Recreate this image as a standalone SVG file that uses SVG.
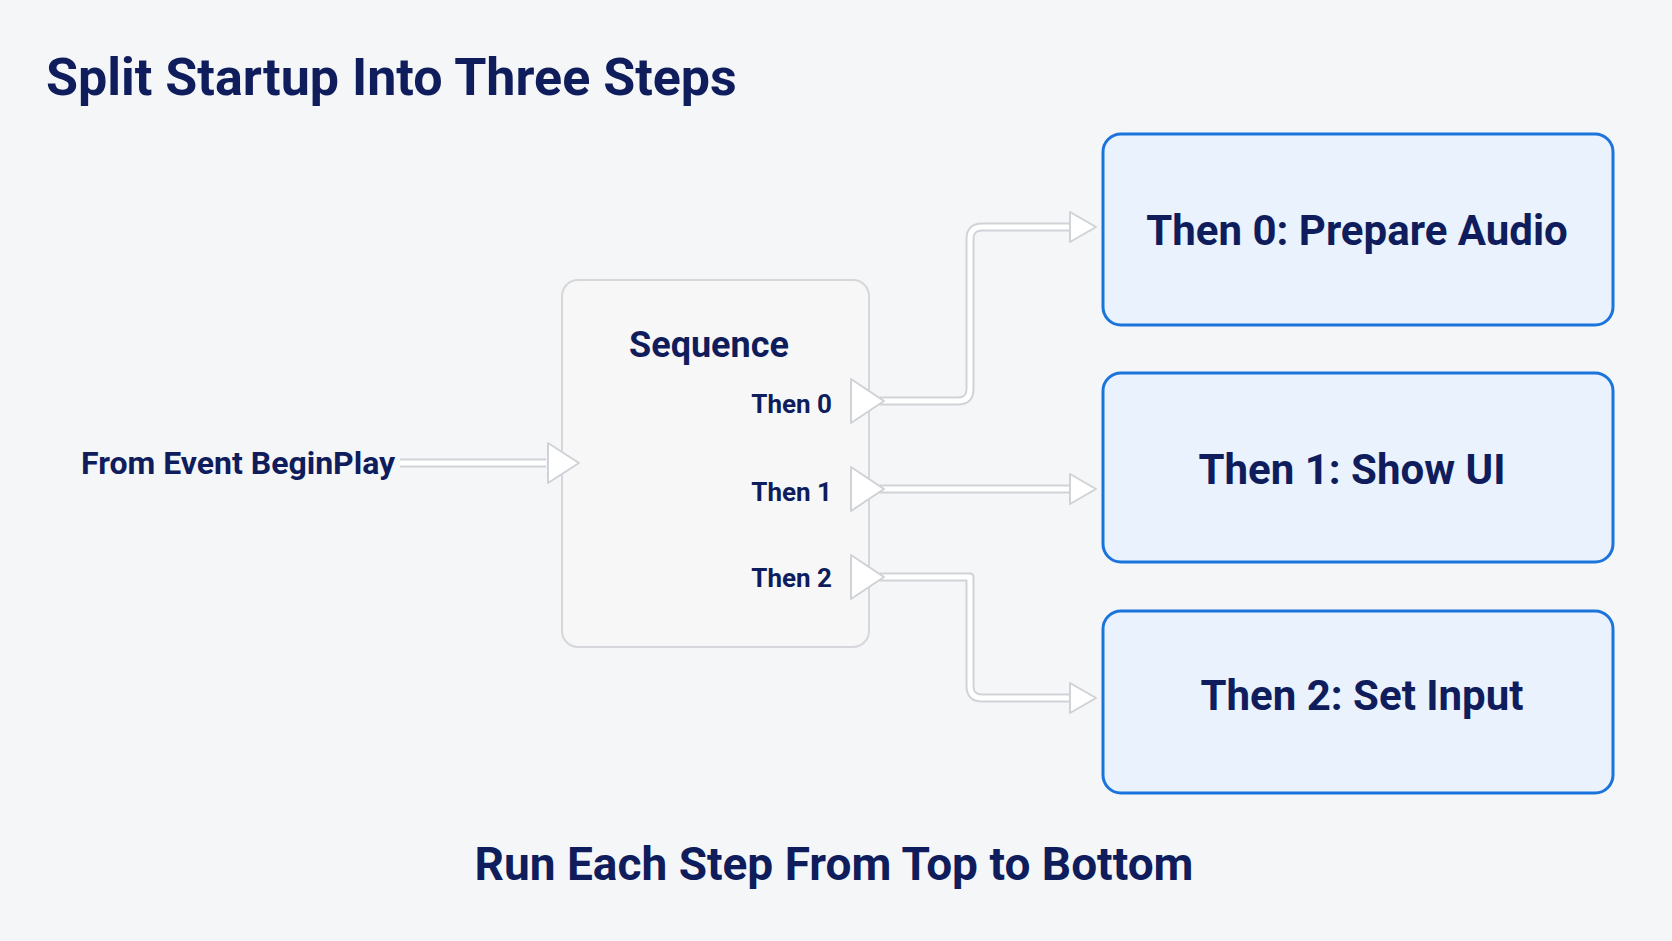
<svg xmlns="http://www.w3.org/2000/svg" width="1672" height="941" viewBox="0 0 1672 941">
<style>
text{font-family:Roboto,"Liberation Sans",sans-serif;font-weight:700;fill:#0f1d5c}
.box{fill:#e9f2fd;stroke:#1b74dc;stroke-width:3}
.wo{fill:none;stroke:#cfd2d6;stroke-width:9;stroke-linejoin:round}
.wi{fill:none;stroke:#ffffff;stroke-width:5;stroke-linejoin:round}
.pin{fill:#ffffff;stroke:#cfd2d6;stroke-width:2;stroke-linejoin:round}
</style>
<rect width="1672" height="941" fill="#f5f6f8"/>
<text x="46" y="95" font-size="52">Split Startup Into Three Steps</text>
<g id="connectors">
<path class="wo" d="M400 463H546"/><path class="wi" d="M400 463H546"/>
<path class="wo" d="M880 401H958q12 0 12-12V239q0-12 12-12H1075"/><path class="wi" d="M880 401H958q12 0 12-12V239q0-12 12-12H1075"/>
<path class="wo" d="M880 489H1075"/><path class="wi" d="M880 489H1075"/>
<path class="wo" d="M880 577H970V686q0 12 12 12H1075"/><path class="wi" d="M880 577H970V686q0 12 12 12H1075"/>
<path class="pin" d="M1070 212L1096 227L1070 242Z"/>
<path class="pin" d="M1070 474L1096 489L1070 504Z"/>
<path class="pin" d="M1070 683L1096 698L1070 713Z"/>
</g>
<g id="source"><text x="81" y="474" font-size="32">From Event BeginPlay</text></g>
<g id="sequence">
<rect x="562" y="280" width="307" height="367" rx="16" fill="#f7f7f8" stroke="#d5d7db" stroke-width="2"/>
<text x="709" y="357" font-size="36" text-anchor="middle">Sequence</text>
<text x="832" y="413" font-size="26" text-anchor="end">Then 0</text>
<text x="832" y="501" font-size="26" text-anchor="end">Then 1</text>
<text x="832" y="587" font-size="26" text-anchor="end">Then 2</text>
<path class="pin" d="M548 443L579 463L548 483Z"/>
<path class="pin" d="M851 379L884 401L851 423Z"/>
<path class="pin" d="M851 467L884 489L851 511Z"/>
<path class="pin" d="M851 555L884 577L851 599Z"/>
</g>
<g id="step0"><rect class="box" x="1103" y="134" width="510" height="191" rx="18"/><text x="1357" y="245" font-size="42" text-anchor="middle">Then 0: Prepare Audio</text></g>
<g id="step1"><rect class="box" x="1103" y="373" width="510" height="189" rx="18"/><text x="1352" y="484" font-size="42" text-anchor="middle">Then 1:  Show UI</text></g>
<g id="step2"><rect class="box" x="1103" y="611" width="510" height="182" rx="18"/><text x="1362" y="710" font-size="42" text-anchor="middle">Then 2:  Set Input</text></g>
<text x="834" y="880" font-size="46" text-anchor="middle">Run Each Step From Top to Bottom</text>
</svg>
